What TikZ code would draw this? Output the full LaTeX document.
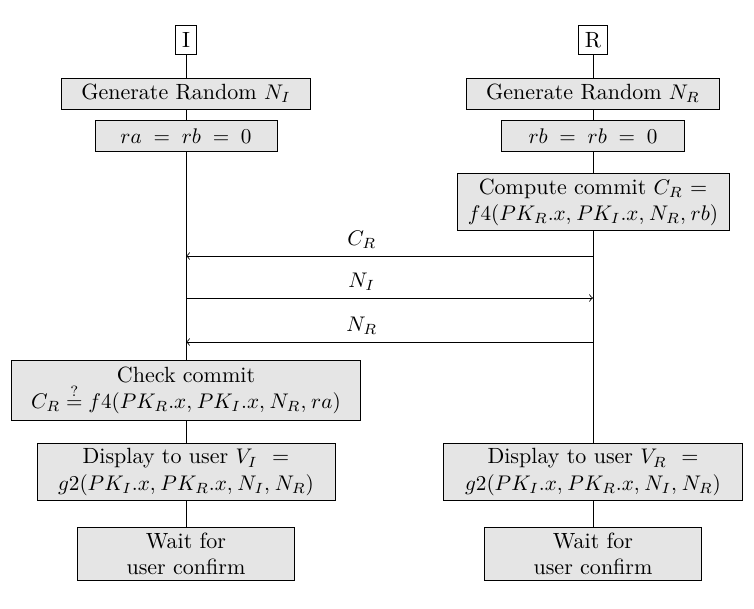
\documentclass[tikz,border=0pt]{standalone}
\usetikzlibrary{positioning}

\tikzset{
  party/.style={draw, fill=white, inner sep=3pt, minimum height=14pt},
  action/.style={draw, fill=gray!20, align=center, inner sep=2pt, minimum height=14.6pt},
  msg/.style={->},
}

\begin{document}
\begin{tikzpicture}[x=0.0166cm, y=-0.0166cm, font=\fontsize{10.4}{12.3}\selectfont]

    \useasboundingbox (0,0) rectangle (754,608);

    % the two parties
    \node[party] (I) at (186,40) {I};
    \node[party] (R) at (593,40) {R};

    % initiator side
    \node[action, minimum width=118pt] (genI) at (186,93.5) {Generate Random $N_I$};
    \node[action, minimum width=86pt] (initI) at (186,136) {$\thickmuskip=10mu ra = rb = 0$};
    \node[action, minimum width=165pt, minimum height=28.7pt] (checkI) at (186,390.5)
        {Check commit\\ $\thinmuskip=4mu C_R \stackrel{?}{=} f4(PK_R.x, PK_I.x, N_R, ra)$};
    \node[action, minimum width=140.7pt, minimum height=27.3pt] (dispI) at (186,472)
        {Display to user $V_I$ \ =\\ $\thinmuskip=4mu g2(PK_I.x, PK_R.x, N_I, N_R)$};
    \node[action, minimum width=102.6pt, minimum height=25pt] (waitI) at (186,553.5)
        {Wait for\\ user confirm};

    % responder side
    \node[action, minimum width=119.5pt] (genR) at (593,93.5) {Generate Random $N_R$};
    \node[action, minimum width=86.5pt] (initR) at (593,136) {$\thickmuskip=10mu rb = rb = 0$};
    \node[action, minimum width=128.5pt, minimum height=27.3pt] (commitR) at (593,202)
        {Compute commit $C_R$ =\\ $\thinmuskip=4mu f4(PK_R.x, PK_I.x, N_R, rb)$};
    \node[action, minimum width=141pt, minimum height=27.3pt] (dispR) at (593,472)
        {Display to user $V_R$ \ =\\ $\thinmuskip=4mu g2(PK_I.x, PK_R.x, N_I, N_R)$};
    \node[action, minimum width=102.6pt, minimum height=25pt] (waitR) at (593,553.5)
        {Wait for\\ user confirm};

    % lifelines
    \draw (I) -- (genI) -- (initI) -- (checkI) -- (dispI) -- (waitI);
    \draw (R) -- (genR) -- (initR) -- (commitR) -- (dispR) -- (waitR);

    % messages
    \coordinate (mI1) at (186,256);
    \coordinate (mR1) at (593,256);
    \coordinate (mI2) at (186,298);
    \coordinate (mR2) at (593,298);
    \coordinate (mI3) at (186,342);
    \coordinate (mR3) at (593,342);

    \draw[msg] (mR1) -- node[above, pos=0.568] {$C_R$} (mI1);
    \draw[msg] (mI2) -- node[above, pos=0.432] {$N_I$} (mR2);
    \draw[msg] (mR3) -- node[above, pos=0.568] {$N_R$} (mI3);

\end{tikzpicture}
\end{document}
